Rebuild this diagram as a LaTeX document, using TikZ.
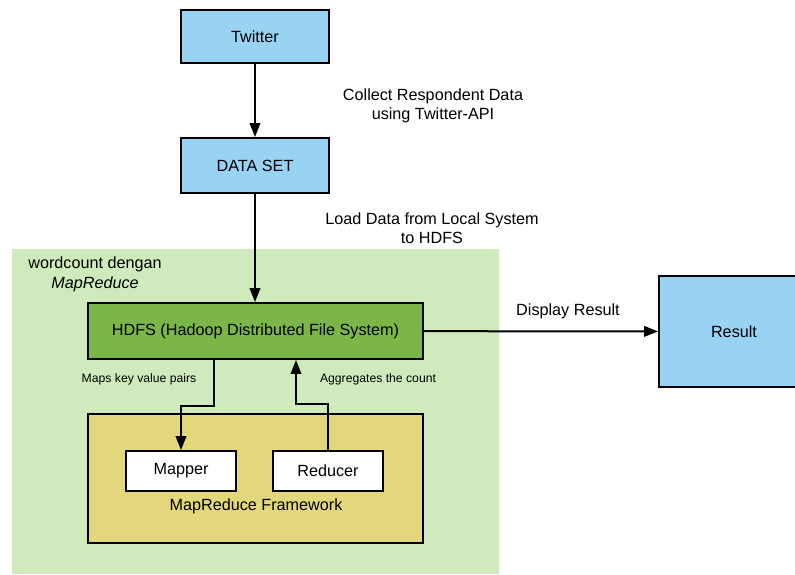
\documentclass[tikz,border=0pt]{standalone}
\usepackage{fontspec}
\setmainfont{Liberation Sans}
\usetikzlibrary{arrows.meta,positioning}
\definecolor{cblue}{RGB}{153,211,243}
\definecolor{cbg}{RGB}{208,235,187}
\definecolor{chdfs}{RGB}{122,182,72}
\definecolor{cyel}{RGB}{228,214,122}
\tikzset{
  box/.style={draw=black, line width=1.8pt, rectangle, inner sep=0pt, align=center,
    font=\fontsize{16.2}{19}\selectfont},
  lbl/.style={inner sep=0pt, align=center, font=\fontsize{16.2}{19.5}\selectfont},
  small/.style={inner sep=0pt, align=center, font=\fontsize{12.2}{14}\selectfont},
  arr/.style={draw=black, line width=2pt, -{Triangle[length=14pt,width=10.5pt]}}
}
\begin{document}
\begin{tikzpicture}[x=1pt,y=-1pt]
\clip (0,0) rectangle (795,574);
\useasboundingbox (0,0) rectangle (795,574);
% background group
\node[fill=cbg, draw=none, minimum width=487pt, minimum height=325pt, inner sep=0pt] (bg) at (255.5,411.5) {};
\node[lbl] (bglbl) at (95,274.5) {wordcount dengan\\\textit{MapReduce}};
% boxes
\node[box, fill=cblue, minimum width=148pt, minimum height=53pt] (tw) at (255,36.5) {Twitter};
\node[box, fill=cblue, minimum width=148pt, minimum height=55pt] (ds) at (255,165.5) {DATA SET};
\node[box, fill=chdfs, minimum width=335pt, minimum height=56pt] (hdfs) at (255.5,331) {HDFS (Hadoop Distributed File System)};
\node[box, fill=cblue, minimum width=150pt, minimum height=111pt] (res) at (734,331.5) {Result};
\node[box, fill=cyel, minimum width=335pt, minimum height=129pt] (fw) at (255.5,478.5) {};
\node[box, fill=white, minimum width=110pt, minimum height=40pt] (mapper) at (181,471) {Mapper};
\node[box, fill=white, minimum width=110pt, minimum height=40pt] (reducer) at (328,471) {Reducer};
\node[lbl] (fwlbl) at (256,506) {MapReduce Framework};
% labels
\node[lbl] (l1) at (433,106) {Collect Respondent Data\\using Twitter-API};
\node[lbl] (l2) at (432,228) {Load Data from Local System\\to HDFS};
\node[lbl] (l3) at (568,311) {Display Result};
\node[small] (l4) at (139,379) {Maps key value pairs};
\node[small] (l5) at (378,379) {Aggregates the count};
% connectors
\draw[arr] (tw) -- (ds);
\draw[arr] (ds.south) -- (ds.south |- hdfs.north);
\draw[arr] (hdfs) -- (res);
\draw[arr] ([xshift=-41.5pt]hdfs.south) -- ++(0,46) -| (mapper.north);
\draw[arr] (reducer.north) -- ++(0,-46) -| ([xshift=40.5pt]hdfs.south);
\end{tikzpicture}
\end{document}
